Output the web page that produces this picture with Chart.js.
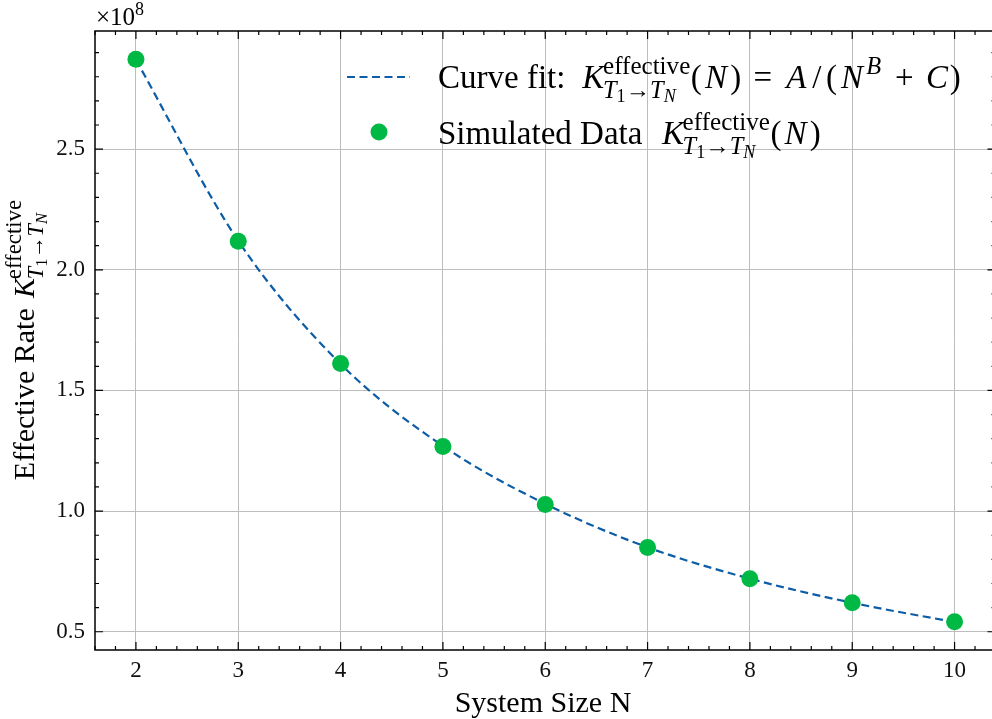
<!DOCTYPE html>
<html>
<head>
<meta charset="utf-8">
<script src="https://cdn.jsdelivr.net/npm/chart.js@4.4.0/dist/chart.umd.min.js"></script>
<style>
  html, body { margin: 0; padding: 0; background: #fff; overflow: hidden; }
  #wrap { width: 1004px; height: 719px; }
</style>
</head>
<body>
<div id="wrap"><canvas id="chart" width="1004" height="719"></canvas></div>
<script>
// values
const systemSize = [2, 3, 4, 5, 6, 7, 8, 9, 10];
const simulatedRate = [2.873e8, 2.118e8, 1.612e8, 1.268e8, 1.027e8, 0.849e8, 0.72e8, 0.62e8, 0.541e8];
const fitSize = [2, 3, 4, 5, 6, 7, 8, 9, 10];
const fitRate = [2.87e8, 2.12e8, 1.61e8, 1.27e8, 1.03e8, 0.85e8, 0.72e8, 0.62e8, 0.54e8];
const xTicks = [2, 3, 4, 5, 6, 7, 8, 9, 10];
const yTicks = [0.5e8, 1.0e8, 1.5e8, 2.0e8, 2.5e8];

const FONT = '"Liberation Serif", "Times New Roman", serif';
const BLUE = "#0C5DA5";
const GREEN = "#00B945";

// run list items: {t, it, s (scale), dy (em), w (advance em)}, {gap (em)} or {stack, sup, sub}
function setFont(ctx, r, size) {
  ctx.font = `${r.it ? "italic " : ""}${size * (r.s || 1)}px ${FONT}`;
}
function runWidth(ctx, runs, size) {
  let w = 0;
  for (const r of runs) {
    if (r.stack) {
      w += Math.max(runWidth(ctx, r.sup, size), runWidth(ctx, r.sub, size));
    } else if (r.gap) {
      w += r.gap * size;
    } else if (r.w) {
      w += r.w * size * (r.s || 1);
    } else {
      setFont(ctx, r, size);
      w += ctx.measureText(r.t).width;
    }
  }
  return w;
}
function drawRuns(ctx, runs, x, y, size) {
  for (const r of runs) {
    if (r.stack) {
      drawRuns(ctx, r.sup, x, y, size);
      drawRuns(ctx, r.sub, x, y, size);
      x += Math.max(runWidth(ctx, r.sup, size), runWidth(ctx, r.sub, size));
    } else if (r.gap) {
      x += r.gap * size;
    } else {
      setFont(ctx, r, size);
      const nat = ctx.measureText(r.t).width;
      const adv = r.w ? r.w * size * (r.s || 1) : nat;
      const off = r.w ? (adv - nat) / (r.left ? 8 : 2) : 0;
      ctx.fillText(r.t, x + off, y + (r.dy || 0) * size);
      x += adv;
    }
  }
  return x;
}
const kEff = [
  { t: "K", it: true, w: 0.62, left: true },
  {
    stack: true,
    sup: [{ t: "effective", s: 0.76, dy: -0.42 }],
    sub: [
      { t: "T", it: true, s: 0.74, dy: 0.3 },
      { t: "1", s: 0.55, dy: 0.42 },
      { t: "→", s: 0.74, dy: 0.3 },
      { t: "T", it: true, s: 0.74, dy: 0.3 },
      { t: "N", it: true, s: 0.55, dy: 0.42 },
    ],
  },
];
const argN = [{ t: "(", w: 0.37 }, { t: "N", it: true, w: 0.82 }, { t: ")", w: 0.37 }];
const fitLabel = [
  { t: "Curve fit:" }, { gap: 0.52 }, ...kEff, ...argN,
  { gap: 0.25 }, { t: "=", w: 0.778 }, { gap: 0.25 },
  { t: "A", it: true, w: 0.75 }, { t: "/", w: 0.5 }, { t: "(", w: 0.389 }, { t: "N", it: true, w: 0.85 },
  { t: "B", it: true, s: 0.74, dy: -0.42, w: 0.7, left: true },
  { gap: 0.25 }, { t: "+", w: 0.778 }, { gap: 0.25 },
  { t: "C", it: true, w: 0.715 }, { t: ")", w: 0.389 },
];
const dataLabel = [{ t: "Simulated Data" }, { gap: 0.6 }, ...kEff, ...argN];
const yTitle = [{ t: "Effective Rate" }, { gap: 0.35 }, ...kEff];

const decorations = {
  id: "decorations",
  afterDraw(chart) {
    const { ctx, chartArea: a, scales } = chart;
    const x = scales.x, y = scales.y;
    ctx.save();
    ctx.strokeStyle = "#000";
    ctx.fillStyle = "#000";
    // inward ticks on all four sides
    ctx.lineWidth = 1.2;
    const tick = (px, len, vertical) => {
      ctx.beginPath();
      if (vertical) {
        ctx.moveTo(px, a.bottom); ctx.lineTo(px, a.bottom - len);
        ctx.moveTo(px, a.top); ctx.lineTo(px, a.top + len);
      } else {
        ctx.moveTo(a.left, px); ctx.lineTo(a.left + len, px);
        ctx.moveTo(a.right, px); ctx.lineTo(a.right - len, px);
      }
      ctx.stroke();
    };
    for (let i = 16; i <= 104; i += 2) {
      tick(x.getPixelForValue(i / 10), i % 10 === 0 ? 8 : 4, true);
    }
    for (let i = 5; i <= 29; i++) {
      tick(y.getPixelForValue(i * 1e7), i % 5 === 0 ? 8 : 4, false);
    }
    // spines
    ctx.lineWidth = 1.5;
    ctx.strokeRect(a.left, a.top, a.right - a.left, a.bottom - a.top);

    ctx.textBaseline = "alphabetic";
    // offset label
    drawRuns(ctx, [{ t: "×10" }, { t: "8", s: 0.72, dy: -0.42 }], 96, 25, 25);

    // x title
    ctx.font = `30px ${FONT}`;
    ctx.textAlign = "center";
    ctx.fillText("System Size N", 543, 712);
    ctx.textAlign = "left";

    // y title, rotated
    ctx.save();
    ctx.translate(34, 340);
    ctx.rotate(-Math.PI / 2);
    const yw = runWidth(ctx, yTitle, 30);
    drawRuns(ctx, yTitle, -yw / 2, 0, 30);
    ctx.restore();

    // legend
    ctx.strokeStyle = BLUE;
    ctx.lineWidth = 2.2;
    ctx.setLineDash([8, 4.5]);
    ctx.beginPath();
    ctx.moveTo(347, 77); ctx.lineTo(410, 77);
    ctx.stroke();
    ctx.setLineDash([]);
    ctx.fillStyle = GREEN;
    ctx.beginPath();
    ctx.arc(379, 132, 8.5, 0, Math.PI * 2);
    ctx.fill();
    ctx.fillStyle = "#000";
    drawRuns(ctx, fitLabel, 438, 88, 33);
    drawRuns(ctx, dataLabel, 438, 144, 33);
    ctx.restore();
  },
};

new Chart(document.getElementById("chart"), {
  data: {
    datasets: [
      {
        type: "line",
        label: "Curve fit",
        data: fitSize.map((n, i) => ({ x: n, y: fitRate[i] })),
        borderColor: BLUE,
        borderWidth: 2.2,
        borderDash: [8, 4.5],
        cubicInterpolationMode: "monotone",
        pointRadius: 0,
        fill: false,
        order: 2,
      },
      {
        type: "scatter",
        label: "Simulated Data",
        data: systemSize.map((n, i) => ({ x: n, y: simulatedRate[i] })),
        backgroundColor: GREEN,
        borderWidth: 0,
        pointRadius: 8.5,
        order: 1,
      },
    ],
  },
  plugins: [decorations],
  options: {
    responsive: false,
    animation: false,
    parsing: false,
    layout: { padding: { top: 31, right: 5, left: 0, bottom: 0 } },
    plugins: { legend: { display: false }, tooltip: { enabled: false } },
    scales: {
      x: {
        type: "linear",
        min: 1.6,
        max: 10.4,
        afterBuildTicks: (s) => { s.ticks = xTicks.map((v) => ({ value: v })); },
        afterFit: (s) => { s.height = 69; },
        grid: { color: "#bdbdbd", lineWidth: 1, drawTicks: false },
        border: { display: false },
        ticks: { color: "#111", padding: 7, font: { family: FONT, size: 23 }, callback: (v) => String(v) },
      },
      y: {
        type: "linear",
        min: 0.4244e8,
        max: 2.9896e8,
        afterBuildTicks: (s) => { s.ticks = yTicks.map((v) => ({ value: v })); },
        afterFit: (s) => { s.width = 95; },
        grid: { color: "#bdbdbd", lineWidth: 1, drawTicks: false },
        border: { display: false },
        ticks: { color: "#111", padding: 10, font: { family: FONT, size: 23 }, callback: (v) => (v / 1e8).toFixed(1) },
      },
    },
  },
});
</script>
</body>
</html>
